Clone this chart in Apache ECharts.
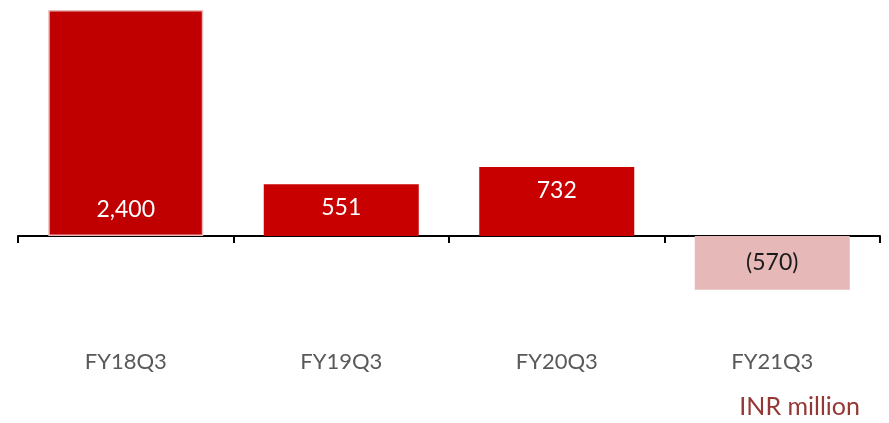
<!DOCTYPE html>
<html>
<head>
<meta charset="utf-8">
<script src="https://cdn.jsdelivr.net/npm/echarts@6/dist/echarts.min.js"></script>
<style>
  html, body { margin: 0; padding: 0; background: #fff; }
  #chart { width: 889px; height: 423px; }
</style>
</head>
<body>
<div id="chart"></div>
<script>
const quarters = ['FY18Q3', 'FY19Q3', 'FY20Q3', 'FY21Q3']
const profit = [2400, 551, 732, -570]
const unitNote = 'INR million'

// label spots inside each bar, as in the slide
const labelSpots = [
  { position: 'insideBottom', distance: 15 },
  { position: 'insideBottom', distance: 17 },
  { position: 'insideTop', distance: 12 },
  { position: 'inside', distance: 0 }
]

const fmt = v => {
  const s = Math.abs(v).toLocaleString('en-US')
  return v < 0 ? '(' + s + ')' : s
}

const chart = echarts.init(document.getElementById('chart'))

chart.setOption({
  animation: false,
  grid: { left: 18, right: 9, top: 10, bottom: 92.8, outerBoundsMode: 'none', containLabel: false },
  xAxis: [{
    type: 'category',
    data: quarters,
    axisLine: { onZero: true, lineStyle: { color: '#000', width: 2 } },
    axisTick: { show: true, length: 7, lineStyle: { color: '#000', width: 2 } },
    axisLabel: { show: false }
  }, {
    // category names sit well below the zero line
    type: 'category',
    data: quarters,
    position: 'bottom',
    axisLine: { show: false, onZero: false },
    axisTick: { show: false },
    axisLabel: { margin: 21, color: '#595959', fontSize: 22, fontFamily: 'Lato' }
  }],
  yAxis: {
    type: 'value',
    min: -1000,
    max: 2400,
    show: false,
    splitLine: { show: false }
  },
  series: [{
    type: 'bar',
    xAxisIndex: 0,
    barWidth: 155,
    data: profit.map((v, i) => ({
      value: v,
      itemStyle: v < 0
        ? { color: '#E6B9B8' }
        : i === 0
          ? { color: '#C00000', borderColor: '#E6B9B8', borderWidth: 1.5 }
          : { color: '#C80000' },
      label: {
        show: true,
        position: labelSpots[i].position,
        distance: labelSpots[i].distance,
        color: v < 0 ? '#1a1a1a' : '#fff',
        fontSize: 23,
        fontFamily: 'Lato',
        formatter: p => fmt(p.value)
      }
    }))
  }],
  graphic: [{
    type: 'text',
    right: 29,
    top: 394,
    style: { text: unitNote, fill: '#953735', fontSize: 25, fontFamily: 'Lato' }
  }]
})
</script>
</body>
</html>
